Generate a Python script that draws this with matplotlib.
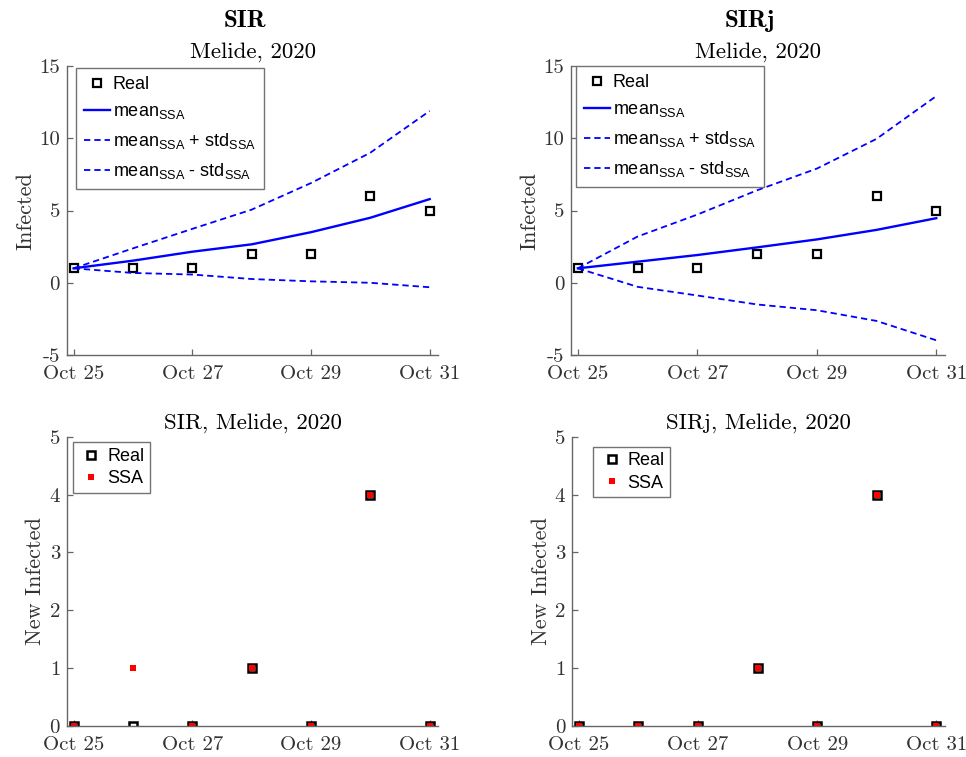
import numpy as np
import matplotlib
matplotlib.use("Agg")
import matplotlib.pyplot as plt
import matplotlib.dates as mdates
from matplotlib.transforms import offset_copy

# data
dates = np.arange("2020-10-25", "2020-11-01", dtype="datetime64[D]")
real_infected = [1, 1, 1, 2, 2, 6, 5]
sir_mean = [1.0, 1.53, 2.15, 2.66, 3.5, 4.5, 5.79]
sir_std = [0.0, 0.85, 1.58, 2.4, 3.4, 4.5, 6.1]
sirj_mean = [1.0, 1.46, 1.92, 2.45, 3.0, 3.66, 4.47]
sirj_std = [0.0, 1.74, 2.8, 3.95, 4.9, 6.3, 8.45]
real_new = [0, 0, 0, 1, 0, 4, 0]
sir_ssa_new = [0, 1, 0, 1, 0, 4, 0]
sirj_ssa_new = [0, 0, 0, 1, 0, 4, 0]

plt.rcParams["font.family"] = "cmr10"
plt.rcParams["axes.unicode_minus"] = False
plt.rcParams["mathtext.fontset"] = "custom"
plt.rcParams["mathtext.rm"] = "Liberation Sans"
plt.rcParams["mathtext.it"] = "Liberation Sans:italic"

AX_GRAY = "0.4"
TICK_GRAY = "0.2"
LEG_FONT = {"family": "Liberation Sans", "size": 13}
SUB = r"$_{\mathrm{SSA}}$"

x = mdates.date2num(dates)


def style_axes(ax, ylim, yticks, ylabel):
    ax.set_xlim(x[0] - 0.11, x[-1] + 0.14)
    ax.set_ylim(*ylim)
    ax.set_yticks(yticks)
    ax.set_xticks(x[::2])
    ax.xaxis.set_major_formatter(mdates.DateFormatter("%b %d"))
    for side in ("top", "right"):
        ax.spines[side].set_visible(False)
    for side in ("left", "bottom"):
        ax.spines[side].set_color(AX_GRAY)
        ax.spines[side].set_linewidth(1.0)
    ax.tick_params(direction="in", length=4, width=0.9, color=AX_GRAY,
                   labelsize=15, labelcolor=TICK_GRAY)
    ax.tick_params(axis="x", pad=7)
    ax.tick_params(axis="y", pad=5)
    ax.set_ylabel(ylabel, fontsize=16, color=TICK_GRAY, labelpad=3)


def infected_panel(ax, mean, std, model, leg_anchor):
    mean = np.array(mean)
    std = np.array(std)
    h_real, = ax.plot(x, real_infected, "s", mfc="none", mec="black", ms=5.5, mew=1.6)
    h_mean, = ax.plot(x, mean, "-", color="blue", lw=1.7)
    h_up, = ax.plot(x, mean + std, color="blue", lw=1.3, ls=(0, (3.5, 2.2)))
    h_lo, = ax.plot(x, mean - std, color="blue", lw=1.3, ls=(0, (3.5, 2.2)))
    style_axes(ax, (-5, 15), [-5, 0, 5, 10, 15], "Infected")
    ax.legend([h_real, h_mean, h_up, h_lo],
              ["Real", "mean" + SUB, "mean" + SUB + " + std" + SUB,
               "mean" + SUB + " - std" + SUB],
              loc="upper left", bbox_to_anchor=leg_anchor, borderaxespad=0,
              prop=LEG_FONT, handlelength=1.45, handletextpad=0.15,
              labelspacing=0.55, borderpad=0.45, fancybox=False,
              edgecolor="0.45", framealpha=1, numpoints=1)
    ax.set_title("Melide, 2020", fontsize=16.5, pad=6)
    ax.text(0.5, 1.0, model, transform=offset_copy(ax.transAxes, fig=ax.figure, x=-8, y=39, units="dots"),
            ha="center", va="baseline", fontsize=18, family="cmb10")


def new_panel(ax, ssa, title, leg_anchor):
    h_real, = ax.plot(x, real_new, "s", mfc="none", mec="black", ms=6.2, mew=1.8)
    h_ssa, = ax.plot(x, ssa, "s", color="red", ms=4.4, mew=0)
    style_axes(ax, (0, 5), [0, 1, 2, 3, 4, 5], "New Infected")
    ax.legend([h_real, h_ssa], ["Real", "SSA"],
              loc="upper left", bbox_to_anchor=leg_anchor, borderaxespad=0,
              prop=LEG_FONT, handlelength=1.45, handletextpad=0.15,
              labelspacing=0.3, borderpad=0.3, fancybox=False,
              edgecolor="0.45", framealpha=1, numpoints=1)
    ax.set_title(title, fontsize=16.5, pad=6)


fig = plt.figure(figsize=(9.66, 7.57), dpi=100)
ax1 = fig.add_axes([0.0694, 0.5310, 0.384, 0.3818])
ax2 = fig.add_axes([0.5914, 0.5310, 0.3865, 0.3818])
ax3 = fig.add_axes([0.0694, 0.0410, 0.384, 0.3821])
ax4 = fig.add_axes([0.5924, 0.0410, 0.3855, 0.3821])

infected_panel(ax1, sir_mean, sir_std, "SIR", (0.024, 0.993))
infected_panel(ax2, sirj_mean, sirj_std, "SIRj", (0.012, 1.0))
new_panel(ax3, sir_ssa_new, "SIR, Melide, 2020", (0.016, 0.98))
new_panel(ax4, sirj_ssa_new, "SIRj, Melide, 2020", (0.056, 0.965))

fig.savefig("out.png", dpi=100)
